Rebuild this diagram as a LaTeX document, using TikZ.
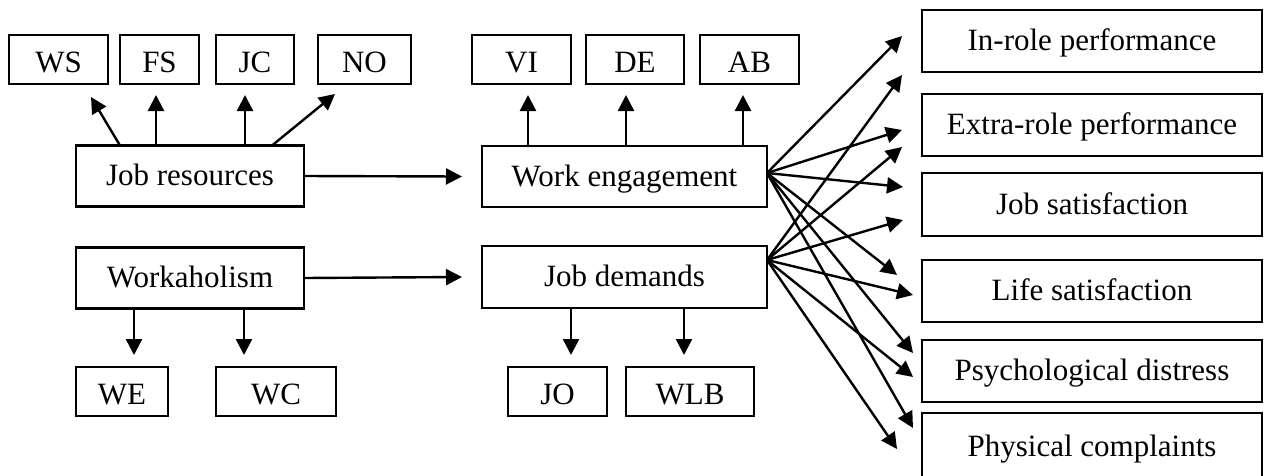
\documentclass[tikz,border=0pt]{standalone}
\usepackage{fontspec}
\setmainfont{Liberation Serif}
\usetikzlibrary{arrows.meta}
\begin{document}
\begin{tikzpicture}[x=1pt,y=-1pt,
  box/.style={draw,line width=2.6pt,rectangle,inner sep=0pt,outer sep=0pt,align=center,
    font=\fontsize{31}{36}\selectfont},
  sm/.style={box,minimum height=49pt,text height=28pt,text depth=2pt},
  bg/.style={box,minimum height=61pt,text height=25pt,text depth=6pt},
  rt/.style={box,minimum height=62pt,minimum width=340pt,text height=25pt,text depth=6pt},
  arr/.style={line width=2.4pt,-{Triangle[length=16pt,width=16pt]}}]
\useasboundingbox (0,0) rectangle (1270,475);
% top small boxes
\node[sm,minimum width=99pt] (ws) at (58.5,59.5) {WS};
\node[sm,minimum width=79pt] (fs) at (159.5,59.5) {FS};
\node[sm,minimum width=78pt] (jc) at (255,59.5) {JC};
\node[sm,minimum width=93pt] (no) at (364.5,59.5) {NO};
\node[sm,minimum width=99pt] (vi) at (521.5,59.5) {VI};
\node[sm,minimum width=98pt] (de) at (635,59.5) {DE};
\node[sm,minimum width=99pt] (ab) at (749.5,59.5) {AB};
% main boxes
\node[bg,minimum width=228pt] (jr) at (190,176) {Job resources};
\node[bg,minimum width=285pt] (weng) at (624.5,176.5) {Work engagement};
\node[bg,minimum width=228pt] (wkh) at (190,278) {Workaholism};
\node[bg,minimum width=285pt,minimum height=62pt] (jd) at (624.5,277) {Job demands};
% bottom small boxes
\node[sm,minimum width=92pt] (we) at (122,391.5) {WE};
\node[sm,minimum width=120pt] (wc) at (276,391.5) {WC};
\node[sm,minimum width=99pt] (jo) at (557.5,391.5) {JO};
\node[sm,minimum width=128pt] (wlb) at (690,391.5) {WLB};
% right boxes
\node[rt] (ir) at (1092,41) {In-role performance};
\node[rt] (er) at (1092,125) {Extra-role performance};
\node[rt,minimum height=63pt] (js) at (1092,204.5) {Job satisfaction};
\node[rt] (ls) at (1092,291) {Life satisfaction};
\node[rt] (pd) at (1092,371) {Psychological distress};
\node[rt,minimum height=66pt,text height=27pt,text depth=6pt] (pc) at (1092,446) {Physical complaints};
% job resources arrows
\draw[arr] ([xshift=44pt]jr.north west) -- ([xshift=32.5pt,yshift=-13pt]ws.south);
\draw[arr] ([xshift=80pt]jr.north west) -- ([xshift=-3.5pt,yshift=-11pt]fs.south);
\draw[arr] ([xshift=169pt]jr.north west) -- ([xshift=-10pt,yshift=-11pt]jc.south);
\draw[arr] ([xshift=196pt]jr.north west) -- ([xshift=-29.5pt,yshift=-10pt]no.south);
% work engagement arrows
\draw[arr] ([xshift=46pt]weng.north west) -- ([xshift=6.5pt,yshift=-11pt]vi.south);
\draw[arr] ([xshift=144pt]weng.north west) -- ([xshift=-9pt,yshift=-11pt]de.south);
\draw[arr] ([xshift=261pt]weng.north west) -- ([xshift=-6.5pt,yshift=-11pt]ab.south);
% horizontal
\draw[arr] (jr.east) -- ([xshift=-20pt]weng.west);
\draw[arr] (wkh.east) -- ([xshift=-20pt]jd.west);
% down arrows
\draw[arr] ([xshift=58pt]wkh.south west) -- ([xshift=12pt,yshift=12pt]we.north);
\draw[arr] ([xshift=168pt]wkh.south west) -- ([xshift=-32pt,yshift=12pt]wc.north);
\draw[arr] ([xshift=89pt]jd.south west) -- ([xshift=13.5pt,yshift=12pt]jo.north);
\draw[arr] ([xshift=202pt]jd.south west) -- ([xshift=-6pt,yshift=12pt]wlb.north);
% fan origins
\coordinate (o1) at ([yshift=3.5pt]weng.east);
\coordinate (o2) at ([yshift=17pt]jd.east);
% from work engagement
\draw[arr] (o1) -- ([xshift=-20pt,yshift=5pt]ir.west);
\draw[arr] (o1) -- ([xshift=-20pt,yshift=-5pt]er.west);
\draw[arr] (o1) -- ([xshift=-19pt,yshift=17.5pt]js.west);
\draw[arr] (o1) -- ([xshift=-25pt,yshift=16pt]ls.west);
\draw[arr] (o1) -- ([xshift=-9pt,yshift=18pt]pd.west);
\draw[arr] (o1) -- ([xshift=-9pt,yshift=18pt]pc.west);
% from job demands
\draw[arr] (o2) -- ([xshift=-20pt,yshift=-34pt]ir.west);
\draw[arr] (o2) -- ([xshift=-20pt,yshift=-22pt]er.west);
\draw[arr] (o2) -- ([xshift=-19pt,yshift=-15.5pt]js.west);
\draw[arr] (o2) -- ([xshift=-9pt,yshift=-4pt]ls.west);
\draw[arr] (o2) -- ([xshift=-9pt,yshift=-6pt]pd.west);
\draw[arr] (o2) -- ([xshift=-25pt,yshift=-3pt]pc.west);
\end{tikzpicture}
\end{document}
